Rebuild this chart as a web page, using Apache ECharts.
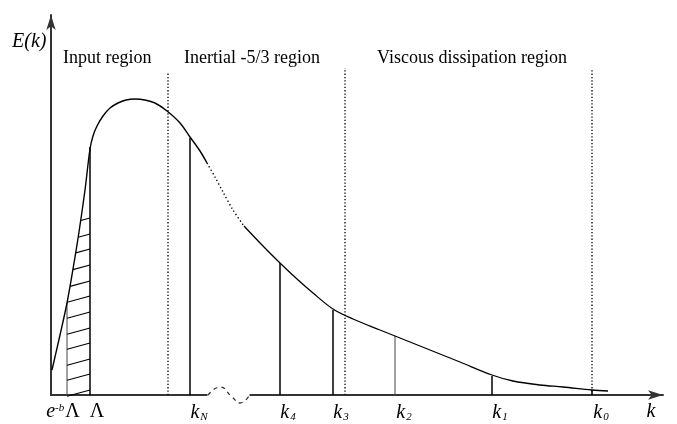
<!DOCTYPE html>
<html>
<head>
<meta charset="utf-8">
<script src="https://cdn.jsdelivr.net/npm/echarts@6/dist/echarts.min.js"></script>
<style>html,body{margin:0;padding:0;background:#fff}#c{width:677px;height:424px}</style>
</head>
<body>
<div id="c"></div>
<script>
// ---- data (schematic units) ----
const curveSolidA = [[1,25],[9,60],[16,92],[22,126],[28,163],[34,205],[39,246],[42,259],[46,269],[52,279],[59,287],[67,292],[75,295],[84,296],[94,295],[104,292],[116,284],[129,272],[139,258],[149,244],[156,232]];
const curveDotted = [[156,232],[164,218],[172,203],[182,185],[193,169]];
const curveSolidB = [[193,169],[211,150],[229,132],[246,116],[262,102],[282,86],[302,76],[329,65],[344,59],[379,45],[409,33],[441,20],[462,14],[489,10],[512,8],[541,5],[557,4]];
const mainTickX = [39, 139, 229, 282, 441, 541];
const mainTickH = [248, 257, 132, 85, 19, 5];
const thinTickX = [16, 344];
const thinTickH = [92, 59];
const dividerX = [117, 294, 541];
const dividerTop = [323, 327, 325];
const hatchHeights = [5, 21, 36, 52, 67, 83, 99, 114, 130, 146, 161, 177];
const breakWave = [[157,0],[169,8],[181,-2],[189,-8],[198,-1]];
const breakSpan = [156.5, 198.5];
const labelCenters = [12, 46, 148, 237, 290, 353, 449, 550, 600];
const labelTexts = ['{i|e}{sup|-b}{up|Λ}', '{up|Λ}', '{i|k}{sub|N}', '{i|k}{sub|4}', '{i|k}{sub|3}', '{i|k}{sub|2}', '{i|k}{sub|1}', '{i|k}{sub|0}', '{i|k}'];
const regionNames = ['Input region', 'Inertial -5/3 region', 'Viscous dissipation region'];
const yName = 'E(k)';
const hatchSlope = 0.27;
const hatchRightX = 39, hatchLeftX = 16;

function curveAt(x) {
  const pts = curveSolidA;
  for (let i = 0; i < pts.length - 1; i++) {
    if (x >= pts[i][0] && x <= pts[i+1][0]) {
      const t = (x - pts[i][0]) / (pts[i+1][0] - pts[i][0]);
      return pts[i][1] + t * (pts[i+1][1] - pts[i][1]);
    }
  }
  return 0;
}

const chart = echarts.init(document.getElementById('c'), null, {renderer: 'canvas'});
const serif = '"Liberation Serif", "Times New Roman", serif';

function vline(color, width) {
  return function (params, api) {
    const p0 = api.coord([api.value(0), 0]);
    const p1 = api.coord([api.value(0), api.value(1)]);
    return {type: 'line', shape: {x1: p0[0], y1: p0[1], x2: p1[0], y2: p1[1]}, style: {stroke: color, lineWidth: width}};
  };
}

const option = {
  animation: false,
  backgroundColor: '#fff',
  grid: {left: 51, right: 14, top: 15, bottom: 29},
  xAxis: {
    type: 'value', min: 0, max: 612,
    splitLine: {show: false},
    axisTick: {show: false},
    axisLine: {show: true, symbol: ['none', 'arrow'], symbolSize: [7, 15], lineStyle: {color: '#333', width: 2}},
    axisLabel: {
      show: true, customValues: labelCenters, margin: 7, hideOverlap: false,
      formatter: function (v) { const i = labelCenters.indexOf(Math.round(v)); return i >= 0 ? labelTexts[i] : ''; },
      rich: {
        i: {fontFamily: serif, fontStyle: 'italic', fontSize: 20, color: '#000'},
        up: {fontFamily: serif, fontSize: 20, color: '#000'},
        sub: {fontFamily: serif, fontStyle: 'italic', fontSize: 11, color: '#000', padding: [10, 0, 0, 1]},
        sup: {fontFamily: serif, fontStyle: 'italic', fontSize: 11, color: '#000', padding: [0, 1, 8, 0]}
      }
    }
  },
  yAxis: {
    type: 'value', min: 0, max: 380,
    splitLine: {show: false},
    axisTick: {show: false},
    axisLabel: {show: false},
    axisLine: {show: true, symbol: ['none', 'arrow'], symbolSize: [7, 15], lineStyle: {color: '#333', width: 2}}
  },
  graphic: [
    {type: 'text', left: 12, top: 32, style: {text: yName, font: 'italic 20px ' + serif, fill: '#000'}},
    {type: 'text', left: 63, top: 49, style: {text: regionNames[0], font: '18px ' + serif, fill: '#000'}},
    {type: 'text', left: 184, top: 49, style: {text: regionNames[1], font: '18px ' + serif, fill: '#000'}},
    {type: 'text', left: 377, top: 49, style: {text: regionNames[2], font: '18px ' + serif, fill: '#000'}}
  ],
  series: [
    {type: 'line', data: curveSolidA, smooth: 0.35, showSymbol: false, lineStyle: {color: '#000', width: 1.4}, z: 5},
    {type: 'line', data: curveDotted, smooth: 0.3, showSymbol: false, lineStyle: {color: '#000', width: 1.4, type: [1.3, 2.6]}, z: 5},
    {type: 'line', data: curveSolidB, smooth: 0.35, showSymbol: false, lineStyle: {color: '#000', width: 1.3}, z: 5},
    {type: 'custom', data: mainTickX.map((x, i) => [x, mainTickH[i]]), renderItem: vline('#000', 1.5), z: 4},
    {type: 'custom', data: thinTickX.map((x, i) => [x, thinTickH[i]]), renderItem: vline('#444', 1), z: 4},
    {type: 'custom', data: dividerX.map((x, i) => [x, dividerTop[i]]), z: 3,
      renderItem: function (params, api) {
        const p0 = api.coord([api.value(0), 0]);
        const p1 = api.coord([api.value(0), api.value(1)]);
        return {type: 'line', shape: {x1: p0[0], y1: p0[1], x2: p1[0], y2: p1[1]}, style: {stroke: '#111', lineWidth: 1.4, lineDash: [1.3, 2]}};
      }},
    {type: 'custom', data: hatchHeights.map(h => [h]), z: 4,
      renderItem: function (params, api) {
        const h = api.value(0);
        let left = hatchRightX;
        for (let x = hatchRightX; x >= hatchLeftX; x -= 0.1) {
          const y = h - hatchSlope * (hatchRightX - x);
          if (y > curveAt(x)) break;
          left = x;
        }
        const pl = api.coord([left, h - hatchSlope * (hatchRightX - left)]);
        const pr = api.coord([hatchRightX, h]);
        return {type: 'line', shape: {x1: pl[0], y1: pl[1], x2: pr[0], y2: pr[1]}, style: {stroke: '#000', lineWidth: 1.1}};
      }},
    {type: 'custom', data: [breakSpan], z: 3,
      renderItem: function (params, api) {
        const a = api.coord([api.value(0), 0]);
        const b = api.coord([api.value(1), 0]);
        return {type: 'rect', shape: {x: a[0], y: a[1] - 3, width: b[0] - a[0], height: 6}, style: {fill: '#fff'}};
      }},
    {type: 'line', data: breakWave, smooth: 0.5, clip: false, showSymbol: false, lineStyle: {color: '#333', width: 1.3, type: [4, 4]}, z: 4}
  ]
};
chart.setOption(option);
</script>
</body>
</html>
